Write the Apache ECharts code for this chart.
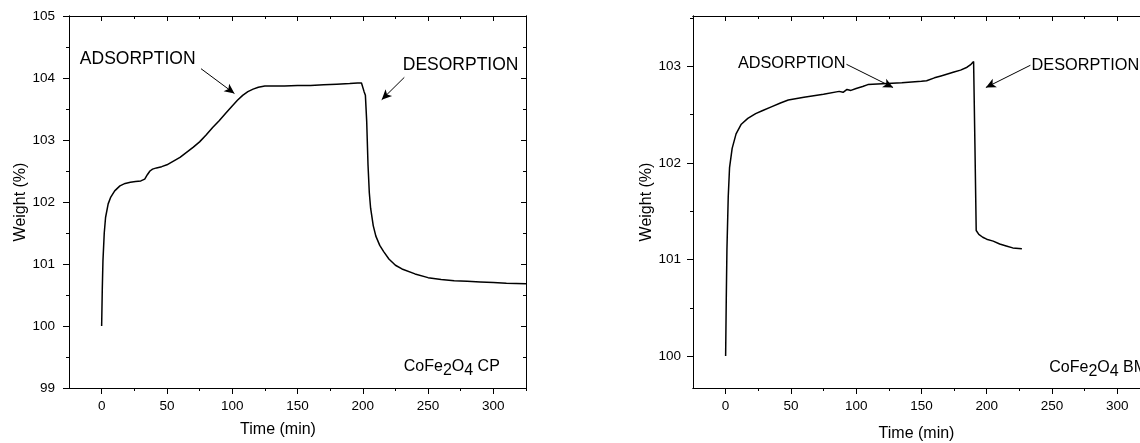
<!DOCTYPE html>
<html>
<head>
<meta charset="utf-8">
<script src="https://cdn.jsdelivr.net/npm/echarts@6/dist/echarts.min.js"></script>
<style>
html,body{margin:0;padding:0;background:#fff;}
#c{width:1140px;height:443px;}
</style>
</head>
<body>
<div id="c"></div>
<script>
// ---- Data ----
// Left panel: CoFe2O4 CP
const cpTime   = [0, 0.5, 1, 2, 3, 5, 7, 10, 14, 18, 22, 26, 30, 33, 35, 37, 39, 42, 46, 50, 55, 60, 65, 70, 75, 80, 85, 90, 95, 100, 104, 108, 112, 116, 120, 125, 130, 140, 150, 160, 170, 180, 190, 196, 199, 200, 201, 202, 203, 204, 205, 206, 208, 210, 213, 216, 220, 225, 230, 240, 250, 260, 270, 280, 290, 300, 310, 325];
const cpWeight = [100.0, 100.6, 101.05, 101.5, 101.75, 101.97, 102.08, 102.18, 102.26, 102.3, 102.32, 102.33, 102.34, 102.37, 102.44, 102.5, 102.53, 102.55, 102.57, 102.6, 102.66, 102.72, 102.8, 102.88, 102.97, 103.08, 103.2, 103.31, 103.43, 103.55, 103.64, 103.72, 103.78, 103.82, 103.85, 103.87, 103.87, 103.87, 103.88, 103.88, 103.89, 103.9, 103.91, 103.92, 103.92, 103.9, 103.78, 103.72, 103.3, 102.6, 102.15, 101.9, 101.62, 101.45, 101.3, 101.2, 101.08, 100.98, 100.92, 100.84, 100.78, 100.75, 100.73, 100.72, 100.71, 100.7, 100.69, 100.68];
// Right panel: CoFe2O4 BM
const bmTime   = [0, 0.5, 1, 2, 3, 5, 8, 12, 17, 23, 28, 35, 42, 48, 60, 75, 87, 90, 93, 96, 100, 105, 109, 120, 135, 150, 154, 160, 165, 170, 175, 180, 185, 188, 190, 191, 192, 194, 197, 200, 205, 210, 215, 220, 227];
const bmWeight = [100.0, 100.6, 101.1, 101.65, 101.95, 102.15, 102.3, 102.4, 102.46, 102.51, 102.54, 102.58, 102.62, 102.65, 102.68, 102.71, 102.74, 102.73, 102.76, 102.75, 102.77, 102.79, 102.81, 102.82, 102.83, 102.845, 102.85, 102.88, 102.9, 102.92, 102.94, 102.96, 102.99, 103.02, 103.05, 102.2, 101.3, 101.26, 101.23, 101.21, 101.19, 101.16, 101.14, 101.12, 101.11];

// Tick values
const xMajor = [0, 50, 100, 150, 200, 250, 300];
const xMinorCP = [25, 75, 125, 175, 225, 275, 325];
const xMinorBM = [25, 75, 125, 175, 225, 275];
const yMajorCP = [99, 100, 101, 102, 103, 104, 105];
const yMinorCP = [99.5, 100.5, 101.5, 102.5, 103.5, 104.5];
const yMajorBM = [100, 101, 102, 103];
const yMinorBM = [100.5, 101.5, 102.5, 103.5];

const FONT = '"Liberation Sans", Arial, sans-serif';
const black = '#000';

function pairs(xs, ys){ return xs.map((x,i)=>[x, ys[i]]); }

const grids = [
  {left: 69, top: 16, width: 457, height: 372, outerBoundsMode: 'none', containLabel: false},
  {left: 693, top: 16, width: 447, height: 372, outerBoundsMode: 'none', containLabel: false}
];

const xAxes = [], yAxes = [];
function addAxes(gi, cfg){
  const base = {gridIndex: gi, type: 'value', min: -25, max: cfg.xMax,
    splitLine:{show:false}, axisLine:{show:true, onZero:false, lineStyle:{color:black, width:1}}};
  xAxes.push(Object.assign({}, base, {position:'bottom',
    name:'Time (min)', nameLocation:'middle', nameGap: cfg.xNameGap,
    nameTextStyle:{fontFamily:FONT, fontSize:16, color:black, padding:cfg.xNamePad},
    axisTick:{show:true, inside:false, length:6, customValues:xMajor, lineStyle:{color:black}},
    axisLabel:{show:true, customValues:xMajor, fontFamily:FONT, fontSize:13.5, color:black, margin:11}}));
  xAxes.push(Object.assign({}, base, {position:'bottom',
    axisTick:{show:true, inside:false, length:3, customValues:cfg.xMinor, lineStyle:{color:black}},
    axisLabel:{show:false}}));
  xAxes.push(Object.assign({}, base, {position:'top',
    axisTick:{show:true, inside:true, length:5, customValues:xMajor, lineStyle:{color:black}},
    axisLabel:{show:false}}));
  xAxes.push(Object.assign({}, base, {position:'top',
    axisTick:{show:true, inside:true, length:3, customValues:cfg.xMinor, lineStyle:{color:black}},
    axisLabel:{show:false}}));

  const ybase = {gridIndex: gi, type:'value', min:cfg.yMin, max:cfg.yMax, scale:true,
    splitLine:{show:false}, axisLine:{show:true, onZero:false, lineStyle:{color:black, width:1}}};
  yAxes.push(Object.assign({}, ybase, {position:'left',
    name:'Weight (%)', nameLocation:'middle', nameGap: cfg.yNameGap,
    nameTextStyle:{fontFamily:FONT, fontSize:16, color:black},
    axisTick:{show:true, inside:false, length:6, customValues:cfg.yMajor, lineStyle:{color:black}},
    axisLabel:{show:true, customValues:cfg.yMajor, fontFamily:FONT, fontSize:13.5, color:black, margin:cfg.yLabelMargin}}));
  yAxes.push(Object.assign({}, ybase, {position:'left',
    axisTick:{show:true, inside:false, length:3, customValues:cfg.yMinor, lineStyle:{color:black}},
    axisLabel:{show:false}}));
  if (cfg.rightAxis) {
    yAxes.push(Object.assign({}, ybase, {position:'right',
      axisTick:{show:true, inside:true, length:5, customValues:cfg.yMajor, lineStyle:{color:black}},
      axisLabel:{show:false}}));
    yAxes.push(Object.assign({}, ybase, {position:'right',
      axisTick:{show:true, inside:true, length:3, customValues:cfg.yMinor, lineStyle:{color:black}},
      axisLabel:{show:false}}));
  }
}
addAxes(0, {xMax:325, xMinor:xMinorCP, xNameGap:34, xNamePad:[0,39,0,0],
  yMin:99, yMax:105, yMajor:yMajorCP, yMinor:yMinorCP, yNameGap:39, yLabelMargin:14, rightAxis:true});
addAxes(1, {xMax:317.5, xMinor:xMinorBM, xNameGap:38, xNamePad:[0,0,0,0],
  yMin:99.67, yMax:103.52, yMajor:yMajorBM, yMinor:yMinorBM, yNameGap:30, yLabelMargin:12, rightAxis:false});

function textMark(coord, text, size, rich){
  return {coord: coord, symbol:'circle', symbolSize:0,
    label:{show:true, position:'right', distance:0, formatter: text,
      color:black, fontFamily:FONT, fontSize: size, rich: rich || {}}};
}
const subRich = {
  a:{fontFamily:FONT, fontSize:16, color:black, lineHeight:20},
  s:{fontFamily:FONT, fontSize:16, color:black, lineHeight:20, padding:[8,0,0,0]}
};
function arrow(p1, p2){
  return [{coord:p1, symbol:'none'}, {coord:p2, symbol:'arrow', symbolSize:[7,10]}];
}
const mlBase = {silent:true, animation:false, symbol:['none','arrow'], symbolSize:[7,10],
  label:{show:false}, lineStyle:{color:black, width:1, type:'solid'}, emphasis:{disabled:true}};

const series = [
  {type:'line', xAxisIndex:0, yAxisIndex:0, data: pairs(cpTime, cpWeight),
    showSymbol:false, symbol:'none', lineStyle:{color:black, width:1.5}, animation:false, silent:true,
    markPoint:{silent:true, animation:false, data:[
      textMark([-16.7, 104.31], 'ADSORPTION', 17.5),
      textMark([230.6, 104.21], 'DESORPTION', 17.5),
      textMark([231.4, 99.35], '{a|CoFe}{s|2}{a|O}{s|4}{a| CP}', 16, subRich)
    ]},
    markLine:Object.assign({}, mlBase, {data:[
      arrow([76.1, 104.15], [101.7, 103.75]), arrow([231.8, 104.01], [214.5, 103.65]) ]})
  },
  {type:'line', xAxisIndex:4, yAxisIndex:4, data: pairs(bmTime, bmWeight),
    showSymbol:false, symbol:'none', lineStyle:{color:black, width:1.5}, animation:false, silent:true,
    markPoint:{silent:true, animation:false, data:[
      textMark([9.4, 103.03], 'ADSORPTION', 16.3),
      textMark([234.4, 103.01], 'DESORPTION', 16.3),
      textMark([248, 99.88], '{a|CoFe}{s|2}{a|O}{s|4}{a| BM}', 16, subRich)
    ]},
    markLine:Object.assign({}, mlBase, {data:[
      arrow([92.6, 103.02], [128.3, 102.78]), arrow([233.5, 103.01], [199.4, 102.78]) ]})
  }
];

const chart = echarts.init(document.getElementById('c'), null, {renderer:'canvas'});
chart.setOption({
  animation:false,
  backgroundColor:'#fff',
  grid: grids,
  xAxis: xAxes,
  yAxis: yAxes,
  series: series
});
</script>
</body>
</html>
